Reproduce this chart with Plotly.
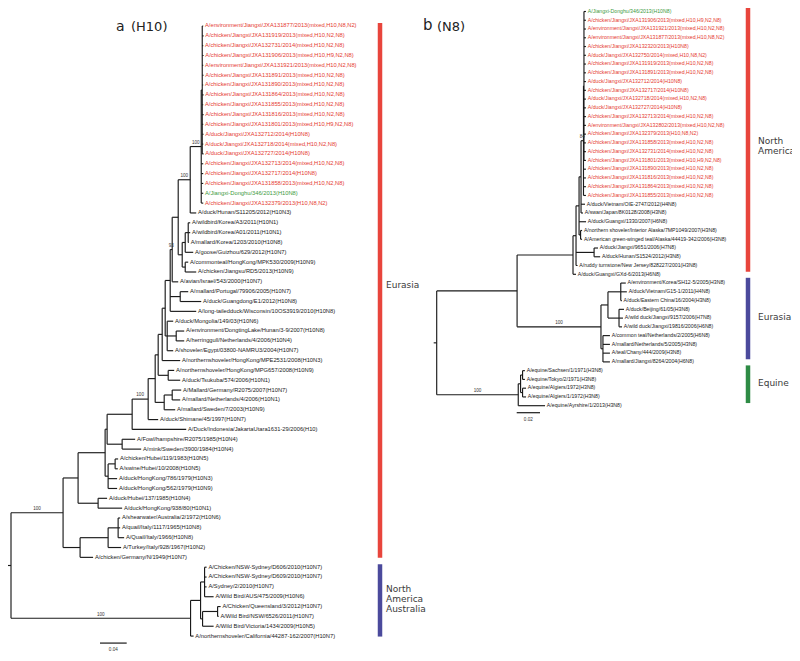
import plotly.graph_objects as go

# ---------------- DATA ----------------
LEFT_TITLE = ("a", "(H10)")
LEFT_TAXA = [
    "A/environment/Jiangxi/JXA131877/2013(mixed,H10,N8,N2)",
    "A/chicken/Jiangxi/JXA131919/2013(mixed,H10,N2,N8)",
    "A/chicken/Jiangxi/JXA132731/2014(mixed,H10,N2,N8)",
    "A/chicken/Jiangxi/JXA131906/2013(mixed,H10,H9,N2,N8)",
    "A/environment/Jiangxi/JXA131921/2013(mixed,H10,N2,N8)",
    "A/chicken/Jiangxi/JXA131891/2013(mixed,H10,N2,N8)",
    "A/chicken/Jiangxi/JXA131890/2013(mixed,H10,N2,N8)",
    "A/chicken/Jiangxi/JXA131864/2013(mixed,H10,N2,N8)",
    "A/chicken/Jiangxi/JXA131855/2013(mixed,H10,N2,N8)",
    "A/chicken/Jiangxi/JXA131816/2013(mixed,H10,N2,N8)",
    "A/chicken/Jiangxi/JXA131801/2013(mixed,H10,H9,N2,N8)",
    "A/duck/Jiangxi/JXA132712/2014(H10N8)",
    "A/duck/Jiangxi/JXA132718/2014(mixed,H10,N2,N8)",
    "A/duck/Jiangxi/JXA132727/2014(H10N8)",
    "A/chicken/Jiangxi/JXA132713/2014(mixed,H10,N2,N8)",
    "A/chicken/Jiangxi/JXA132717/2014(H10N8)",
    "A/chicken/Jiangxi/JXA131858/2013(mixed,H10,N2,N8)",
    "A/Jiangxi-Donghu/346/2013(H10N8)",
    "A/chicken/Jiangxi/JXA132379/2013(H10,N8,N2)",
    "A/duck/Hunan/S11205/2012(H10N3)",
    "A/wildbird/Korea/A3/2011(H10N1)",
    "A/wildbird/Korea/A01/2011(H10N1)",
    "A/mallard/Korea/1203/2010(H10N8)",
    "A/goose/Guizhou/629/2012(H10N7)",
    "A/commonteal/HongKong/MPK530/2009(H10N9)",
    "A/chicken/Jiangsu/RD5/2013(H10N9)",
    "A/avian/Israel/543/2000(H10N7)",
    "A/mallard/Portugal/79906/2005(H10N7)",
    "A/duck/Guangdong/E1/2012(H10N8)",
    "A/long-tailedduck/Wisconsin/10OS3919/2010(H10N8)",
    "A/duck/Mongolia/149/03(H10N6)",
    "A/environment/DongtingLake/Hunan/3-9/2007(H10N8)",
    "A/herringgull/Netherlands/4/2006(H10N4)",
    "A/shoveler/Egypt/03800-NAMRU3/2004(H10N7)",
    "A/northernshoveler/HongKong/MPE2531/2008(H10N3)",
    "A/northernshoveler/HongKong/MPG657/2008(H10N9)",
    "A/duck/Tsukuba/574/2006(H10N1)",
    "A/Mallard/Germany/R2075/2007(H10N7)",
    "A/mallard/Netherlands/4/2006(H10N1)",
    "A/mallard/Sweden/7/2003(H10N9)",
    "A/duck/Shimane/45/1997(H10N7)",
    "A/Duck/Indonesia/JakartaUtara1631-29/2006(H10)",
    "A/Fowl/hampshire/R2075/1985(H10N4)",
    "A/mink/Sweden/3900/1984(H10N4)",
    "A/chicken/Hubei/119/1983(H10N5)",
    "A/swine/Hubei/10/2008(H10N5)",
    "A/duck/HongKong/786/1979(H10N3)",
    "A/duck/HongKong/562/1979(H10N9)",
    "A/duck/Hubei/137/1985(H10N4)",
    "A/duck/HongKong/938/80(H10N1)",
    "A/shearwater/Australia/2/1972(H10N6)",
    "A/quail/Italy/1117/1965(H10N8)",
    "A/Quail/Italy/1966(H10N8)",
    "A/Turkey/Italy/928/1967(H10N2)",
    "A/chicken/Germany/N/1949(H10N7)",
    "A/Chicken/NSW-Sydney/D606/2010(H10N7)",
    "A/Chicken/NSW-Sydney/D609/2010(H10N7)",
    "A/Sydney/2/2010(H10N7)",
    "A/Wild Bird/AUS/475/2009(H10N6)",
    "A/Chicken/Queensland/3/2012(H10N7)",
    "A/Wild Bird/NSW/6526/2011(H10N7)",
    "A/Wild Bird/Victoria/1434/2009(H10N5)",
    "A/northernshoveler/California/44287-162/2007(H10N7)",
]
# topology, bootstrap support and branch lengths (substitutions/site); tips = index in LEFT_TAXA (1-based)
LEFT_NEWICK = (
    "(((((((((((((((((1:0.0015,2:0.002,3:0.0015,4:0.002,5:0.0015,6:0.002,7:0.0015,"
    "8:0.002,9:0.0015,10:0.002,11:0.0015,12:0.002,13:0.0015,14:0.002):0.0015,"
    "15:0.003,16:0.003,17:0.003,18:0.003,19:0.003)100:0.0165,20:0.009)100:0.018,"
    "(((21:0.003,22:0.003,23:0.001):0.0045,24:0.012):0.0045,(25:0.0045,26:0.0165):0.0045):0.006"
    "):0.009,27:0.009)93:0.003,(28:0.012,29:0.0315):0.015,30:0.039):0.0075,"
    "(31:0.009,(32:0.012,33:0.012):0.0135,34:0.009):0.003):0.0045,35:0.027):0.006,"
    "(36:0.009,37:0.018):0.015):0.0045,((38:0.0135,39:0.012):0.012,40:0.0165):0.0135):0.0105,"
    "41:0.015)100:0.024,42:0.081):0.0375,(43:0.0195,44:0.0285):0.0225):0.003,"
    "((45:0.0045,46:0.004):0.0105,47:0.0135,48:0.0135):0.0045):0.0405,"
    "(49:0.0135,50:0.036):0.03):0.0225,"
    "(((51:0.003,52:0.003,53:0.009):0.015,54:0.0195):0.042,55:0.0195):0.0255)100:0.078,"
    "(((56:0.003,57:0.003,58:0.003,59:0.0135):0.006,((60:0.0045,61:0.0015):0.0225,62:0.0165):0.003):0.015,"
    "63:0.0045)100:0.269);"
)
LEFT_SCALE_BAR = 0.04
LEFT_CLADES = [(["Eurasia"], 1, 55, "#e8453c"), (["North", "America", "Australia"], 56, 63, "#4b4a9c")]

RIGHT_TITLE = ("b", "(N8)")
RIGHT_TAXA = [
    "A/Jiangxi-Donghu/346/2013(H10N8)",
    "A/chicken/Jiangxi/JXA131906/2013(mixed,H10,H9,N2,N8)",
    "A/environment/Jiangxi/JXA131921/2013(mixed,H10,N2,N8)",
    "A/environment/Jiangxi/JXA131877/2013(mixed,H10,N8,N2)",
    "A/chicken/Jiangxi/JXA132320/2013(H10N8)",
    "A/duck/Jiangxi/JXA132750/2014(mixed,H10,N8,N2)",
    "A/chicken/Jiangxi/JXA131919/2013(mixed,H10,N2,N8)",
    "A/chicken/Jiangxi/JXA131891/2013(mixed,H10,N2,N8)",
    "A/duck/Jiangxi/JXA132712/2014(H10N8)",
    "A/chicken/Jiangxi/JXA132717/2014(H10N8)",
    "A/duck/Jiangxi/JXA132718/2014(mixed,H10,N2,N8)",
    "A/duck/Jiangxi/JXA132727/2014(H10N8)",
    "A/chicken/Jiangxi/JXA132713/2014(mixed,H10,N2,N8)",
    "A/environment/Jiangxi/JXA132802/2013(mixed,H10,N2,N8)",
    "A/chicken/Jiangxi/JXA132379/2013(H10,N8,N2)",
    "A/chicken/Jiangxi/JXA131858/2013(mixed,H10,N2,N8)",
    "A/chicken/Jiangxi/JXA132731/2014(mixed,H10,N2,N8)",
    "A/chicken/Jiangxi/JXA131801/2013(mixed,H10,H9,N2,N8)",
    "A/chicken/Jiangxi/JXA131890/2013(mixed,H10,N2,N8)",
    "A/chicken/Jiangxi/JXA131816/2013(mixed,H10,N2,N8)",
    "A/chicken/Jiangxi/JXA131864/2013(mixed,H10,N2,N8)",
    "A/chicken/Jiangxi/JXA131855/2013(mixed,H10,N2,N8)",
    "A/duck/Vietnam/OIE-2747/2012(H4N8)",
    "A/swan/Japan/8K0128/2008(H3N8)",
    "A/duck/Guangxi/1330/2007(H6N8)",
    "A/northern shoveler/Interior Alaska/7MP1049/2007(H3N8)",
    "A/American green-winged teal/Alaska/44419-342/2006(H3N8)",
    "A/duck/Jiangxi/9651/2006(H7N8)",
    "A/duck/Hunan/S1524/2012(H3N8)",
    "A/ruddy turnstone/New Jersey/828227/2001(H3N8)",
    "A/duck/Guangxi/GXd-6/2013(H6N8)",
    "A/environment/Korea/SH12-5/2005(H3N8)",
    "A/duck/Vietnam/G15-1/2011(H4N8)",
    "A/duck/Eastern China/16/2004(H3N8)",
    "A/duck/Beijing/61/05(H3N8)",
    "A/wild duck/Jiangxi/9157/2006(H7N8)",
    "A/wild duck/Jiangxi/19816/2006(H6N8)",
    "A/common teal/Netherlands/2/2005(H6N8)",
    "A/mallard/Netherlands/5/2005(H3N8)",
    "A/teal/Chany/444/2009(H3N8)",
    "A/mallard/Jiangxi/8264/2004(H6N8)",
    "A/equine/Sachsen/1/1971(H3N8)",
    "A/equine/Tokyo/2/1971(H3N8)",
    "A/equine/Algiers/1972(H3N8)",
    "A/equine/Algiers/1/1972(H3N8)",
    "A/equine/Ayrshire/1/2013(H3N8)",
]
RIGHT_NEWICK = (
    "((((((((1:0.0017,2:0.0017,3:0.0017,4:0.0017,5:0.0017,6:0.0017,7:0.0017,8:0.0017,9:0.0017,"
    "10:0.0017,11:0.0017,12:0.0017,13:0.0017,14:0.0017,15:0.0017,16:0.0017,17:0.0017,18:0.0017):0.0004,"
    "19:0.0021,20:0.0021,21:0.0021,22:0.0021)84:0.0021,23:0.0034,24:0.0017):0.0017,"
    "25:0.006,(26:0.0013,27:0.0013):0.0013):0.0026,(28:0.0034,29:0.0052):0.0155,30:0.0013):0.0026,"
    "31:0.0026):0.048,"
    "(((32:0.0043,33:0.0052,34:0.0009):0.011,(35:0.0043,36:0.0034,37:0.0026):0.0095):0.006,"
    "(38:0.006,39:0.006,40:0.006,41:0.006):0.0017)100:0.072):0.069,"
    "(((42:0.002,43:0.002):0.0017,(44:0.003,45:0.003):0.0017):0.002,46:0.023)100:0.070);"
)
RIGHT_SCALE_BAR = 0.02
RIGHT_CLADES = [(["North", "America"], 1, 31, "#e8453c"), (["Eurasia"], 32, 41, "#4b4a9c"),
                (["Equine"], 42, 46, "#2e8b45")]

# ---------------- STYLE / LAYOUT ----------------
PAGE_W, PAGE_H = 800, 661
OFF = 8                      # default page margin of the html body
W, H = PAGE_W - OFF, PAGE_H - OFF
RED_TXT, GREEN_TXT, BLACK = "#e53a30", "#3d9a3d", "#1a1a1a"
LEAF_FONT = "Liberation Sans, Arial, sans-serif"
REGION_FONT = dict(family="DejaVu Sans", size=9, color="#3a3a3a")
LEFT_GEOM = dict(root_px=11, ppu=667.5, first_px=26, step_px=9.84, bar_px=380, lab_px=385,
                 lab_y_px=[285, 599], font=5.75, bar_pad=(-0.3, 0.05), scale_px=100)
RIGHT_GEOM = dict(root_px=436.7, ppu=1165, first_px=11.5, step_px=8.76, bar_px=748, lab_px=757,
                  lab_y_px=[146, 317, 383], font=5.2, bar_pad=(-0.6, -0.3), scale_px=516.7)
LINE_PX = 10.4


def parse_newick(text):
    s = "".join(text.split())
    pos = 0

    def read():
        nonlocal pos
        node = {"children": [], "name": "", "length": 0.0}
        if s[pos] == "(":
            pos += 1
            while True:
                node["children"].append(read())
                ch = s[pos]
                pos += 1
                if ch == ")":
                    break
        start = pos
        while s[pos] not in ",():;":
            pos += 1
        node["name"] = s[start:pos]
        if s[pos] == ":":
            pos += 1
            start = pos
            while s[pos] not in ",();":
                pos += 1
            node["length"] = float(s[start:pos])
        return node

    return read()


def layout_tree(root):
    leaves, internals = [], []

    def walk(node, px):
        node["x"] = px + node["length"]
        if node["children"]:
            for c in node["children"]:
                walk(c, node["x"])
            node["y"] = (node["children"][0]["y"] + node["children"][-1]["y"]) / 2
            internals.append(node)
        else:
            node["y"] = float(len(leaves))
            leaves.append(node)

    root["length"] = 0.0
    walk(root, 0.0)
    return leaves, internals


def leaf_color(name):
    if "Jiangxi-Donghu" in name:
        return GREEN_TXT
    if "/Jiangxi/JXA" in name:
        return RED_TXT
    return BLACK


fig = go.Figure()


def add_tree(newick, taxa, clades, scale_len, g, xa, ya):
    ppu = g["ppu"]
    step = g["step_px"]
    root = parse_newick(newick)
    leaves, internals = layout_tree(root)
    bx, by = [], []
    for n in internals:
        bx += [n["x"], n["x"], None]
        by += [n["children"][0]["y"], n["children"][-1]["y"], None]
        for c in n["children"]:
            bx += [n["x"], c["x"], None]
            by += [c["y"], c["y"], None]
    # root stub
    bx += [root["x"] - 3 / ppu, root["x"], None]
    by += [root["y"], root["y"], None]
    fig.add_trace(go.Scatter(x=bx, y=by, mode="lines", xaxis=xa, yaxis=ya,
                             line=dict(color=BLACK, width=1.15), hoverinfo="skip"))
    # leaf labels
    groups = {}
    for lf in leaves:
        name = taxa[int(lf["name"]) - 1]
        groups.setdefault(leaf_color(name), []).append((lf["x"] + 1.8 / ppu, lf["y"], name))
    for col, items in groups.items():
        fig.add_trace(go.Scatter(x=[i[0] for i in items], y=[i[1] for i in items],
                                 text=[i[2] for i in items], mode="text", textposition="middle right",
                                 textfont=dict(family=LEAF_FONT, size=g["font"], color=col),
                                 xaxis=xa, yaxis=ya, hoverinfo="skip"))
    # bootstrap supports
    sx, sy, st = [], [], []
    for n in internals:
        if n["name"]:
            sx.append(n["x"] - n["length"] / 2)
            sy.append(n["y"] - 3.8 / step)
            st.append(n["name"])
    fig.add_trace(go.Scatter(x=sx, y=sy, text=st, mode="text", textposition="middle center",
                             textfont=dict(family=LEAF_FONT, size=4.6, color="#333333"),
                             xaxis=xa, yaxis=ya, hoverinfo="skip"))
    # scale bar
    x0 = (g["scale_px"] - g["root_px"]) / ppu
    yb = len(leaves) - 1 + 7 / step
    fig.add_trace(go.Scatter(x=[x0, x0 + scale_len], y=[yb, yb], mode="lines", xaxis=xa, yaxis=ya,
                             line=dict(color=BLACK, width=1.2), hoverinfo="skip"))
    fig.add_trace(go.Scatter(x=[x0 + scale_len / 2], y=[yb + 7 / step], text=[f"{scale_len:g}"],
                             mode="text", textfont=dict(family=LEAF_FONT, size=4.6, color="#333333"),
                             xaxis=xa, yaxis=ya, hoverinfo="skip"))
    # clade bars and labels
    xbar = (g["bar_px"] - g["root_px"]) / ppu
    xlab = (g["lab_px"] - g["root_px"]) / ppu
    for (lines, a, b, col), ly in zip(clades, g["lab_y_px"]):
        fig.add_trace(go.Scatter(x=[xbar, xbar], y=[a - 1 + g["bar_pad"][0], b - 1 + g["bar_pad"][1]],
                                 mode="lines", line=dict(color=col, width=4.5),
                                 xaxis=xa, yaxis=ya, hoverinfo="skip"))
        for k, line in enumerate(lines):
            py = ly + (k - (len(lines) - 1) / 2) * LINE_PX
            fig.add_annotation(x=xlab, y=(py - g["first_px"]) / step, xref=xa, yref=ya, text=line,
                               showarrow=False, xanchor="left", yanchor="middle", align="left",
                               borderpad=0, font=REGION_FONT)
    xr = [(OFF - g["root_px"]) / ppu, (PAGE_W - g["root_px"]) / ppu]
    yr = [(PAGE_H - g["first_px"]) / step, (OFF - g["first_px"]) / step]
    return xr, yr


lxr, lyr = add_tree(LEFT_NEWICK, LEFT_TAXA, LEFT_CLADES, LEFT_SCALE_BAR, LEFT_GEOM, "x", "y")
rxr, ryr = add_tree(RIGHT_NEWICK, RIGHT_TAXA, RIGHT_CLADES, RIGHT_SCALE_BAR, RIGHT_GEOM, "x2", "y2")

ax = dict(visible=False, showgrid=False, zeroline=False, fixedrange=True)
fig.update_layout(
    width=W, height=H, margin=dict(l=0, r=0, t=0, b=0, pad=0), autosize=False,
    paper_bgcolor="white", plot_bgcolor="rgba(0,0,0,0)", showlegend=False,
    xaxis=dict(ax, range=lxr, domain=[0, 1]), yaxis=dict(ax, range=lyr, domain=[0, 1]),
    xaxis2=dict(ax, range=rxr, domain=[0, 1], anchor="y2"),
    yaxis2=dict(ax, range=ryr, domain=[0, 1], anchor="x2"),
)


def title(text, px, py, size):
    fig.add_annotation(x=(px - OFF) / W, y=1 - (py - OFF) / H, xref="paper", yref="paper", text=text,
                       showarrow=False, xanchor="left", yanchor="middle", borderpad=0,
                       font=dict(family="DejaVu Sans", size=size, color="#222222"))


title(LEFT_TITLE[0], 115, 26, 14)
title(LEFT_TITLE[1], 130, 26, 13)
title(RIGHT_TITLE[0], 422, 25, 15)
title(RIGHT_TITLE[1], 436, 26, 13)

fig.write_html("out.html", config={"displayModeBar": False})
